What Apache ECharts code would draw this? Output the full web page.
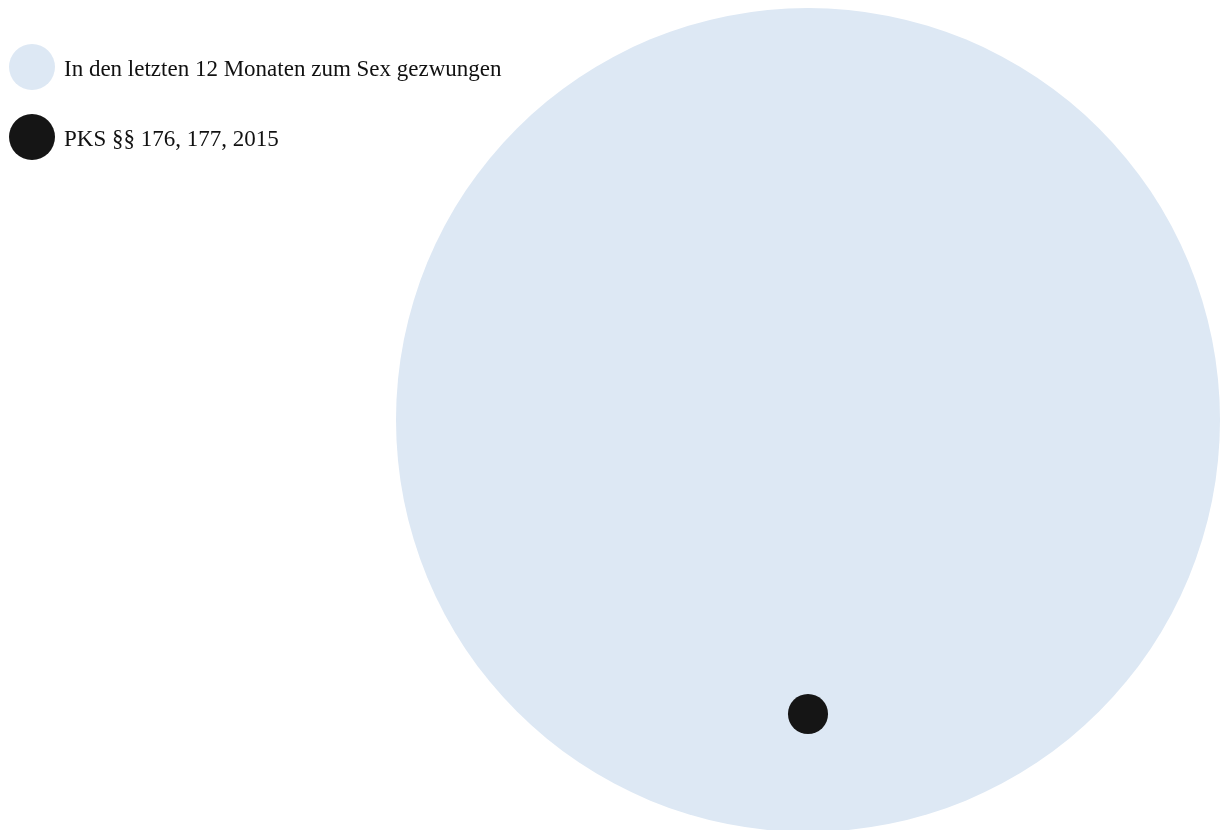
<!DOCTYPE html>
<html>
<head>
<meta charset="utf-8">
<title>Sexuelle Gewalt</title>
<script src="https://cdn.jsdelivr.net/npm/echarts@6/dist/echarts.min.js"></script>
<style>
  html, body { margin: 0; padding: 0; background: #fff; }
</style>
</head>
<body>
<div id="chart" style="width: 1220px; height: 830px;"></div>
<script>
// Kategorien und Werte (Fläche der Kreise ~ Wert)
const names = ['In den letzten 12 Monaten zum Sex gezwungen', 'PKS §§ 176, 177, 2015'];
const values = [7950000, 18800];
const colors = ['#dde8f4', '#151515'];

const maxDiameter = 824;
const maxValue = Math.max(...values);
const size = v => maxDiameter * Math.sqrt(v / maxValue);

const bigR = size(values[0]) / 2;
const smallR = size(values[1]) / 2;

const chart = echarts.init(document.getElementById('chart'));
chart.setOption({
  animation: false,
  legend: {
    orient: 'vertical',
    left: 4,
    top: 39,
    icon: 'circle',
    itemWidth: 46,
    itemHeight: 46,
    itemGap: 24,
    data: names,
    formatter: '{t|{name}}',
    textStyle: {
      fontFamily: '"Liberation Serif", "Times New Roman", serif',
      fontSize: 23,
      color: '#111',
      rich: {
        t: {
          fontFamily: '"Liberation Serif", "Times New Roman", serif',
          fontSize: 23,
          color: '#111',
          padding: [5, 0, 0, 4]
        }
      }
    }
  },
  grid: { left: 396, right: 0, top: 10, bottom: 0 },
  xAxis: { type: 'category', data: ['2015'], show: false },
  yAxis: { type: 'category', data: ['alle'], show: false },
  series: names.map((name, i) => ({
    name: name,
    type: 'scatter',
    data: [['2015', 'alle', values[i]]],
    symbolSize: d => size(d[2]),
    // kleiner Kreis liegt im unteren Teil des großen Kreises
    symbolOffset: i === 0 ? [0, 0] : [0, (bigR - smallR) * 0.75],
    itemStyle: { color: colors[i], opacity: 1 },
    emphasis: { disabled: true }
  }))
});
</script>
</body>
</html>
